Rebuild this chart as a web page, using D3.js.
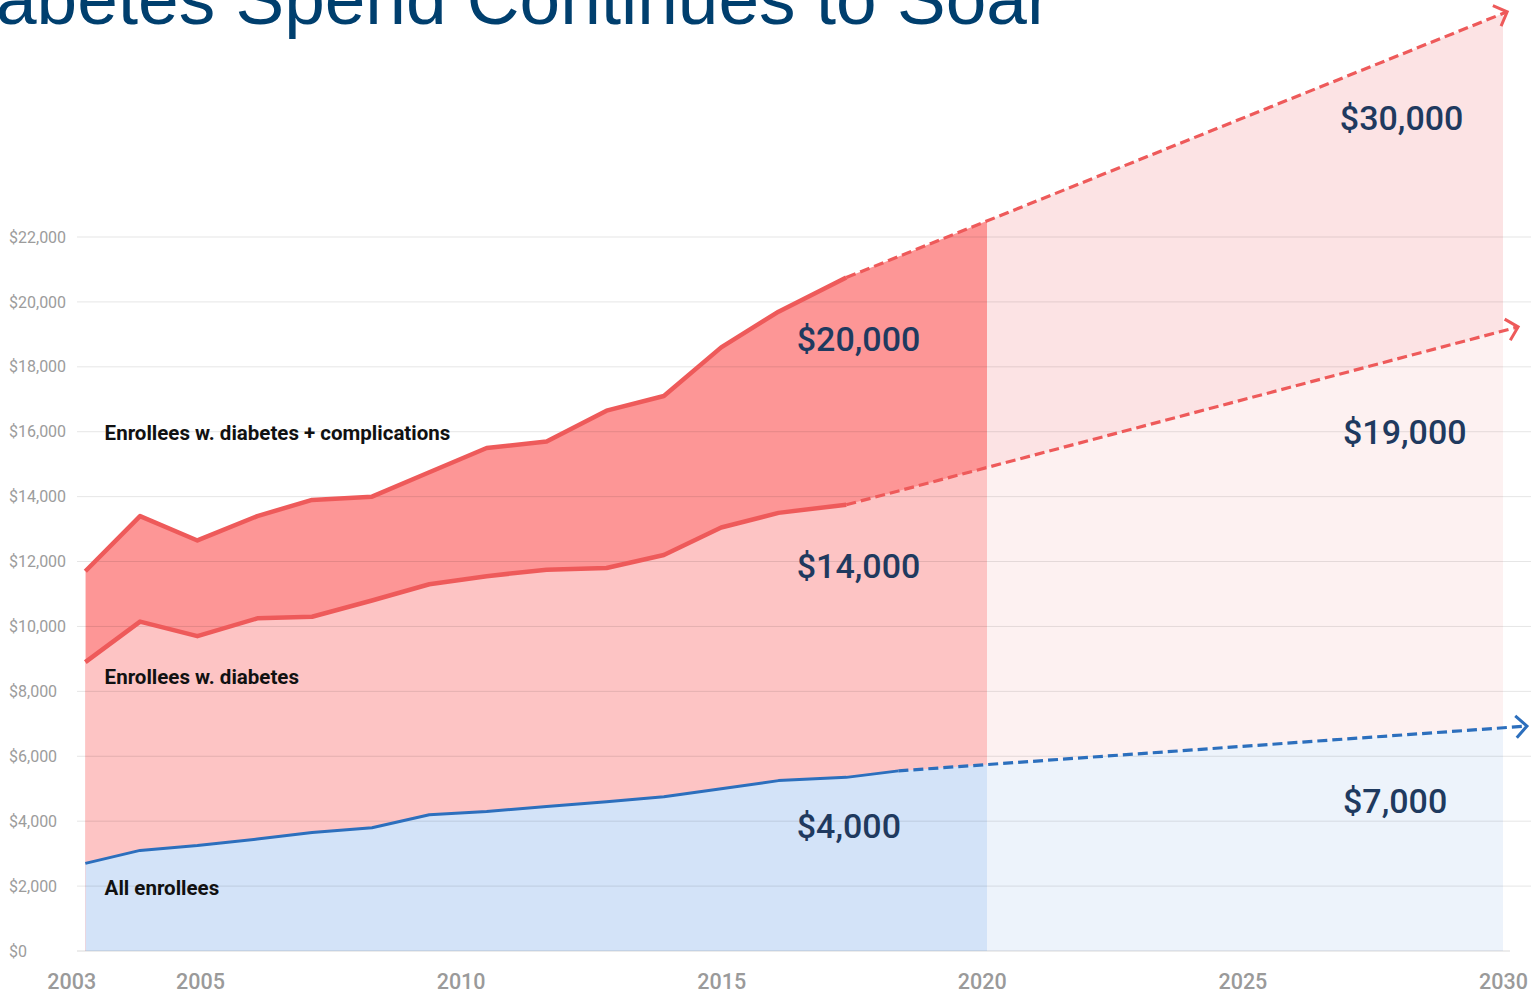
<!DOCTYPE html>
<html>
<head>
<meta charset="utf-8">
<script src="https://cdn.jsdelivr.net/npm/d3@7"></script>
<style>
  body { margin: 0; background: #fff; }
  svg { display: block; }
  .ytick { font-family: Roboto, sans-serif; font-size: 16px; fill: #9c9c9c; }
  .xaxis text { font-family: Roboto, sans-serif; font-size: 21.5px; font-weight: 500; fill: #9a9a9a; }
  .series-label { font-family: Roboto, sans-serif; font-size: 20.5px; font-weight: 700; fill: #111; }
  .value-label { font-family: Roboto, sans-serif; font-size: 34px; font-weight: 500; fill: #1f3a5f; }
  .title { font-family: "Liberation Sans", Arial, sans-serif; font-size: 73px; fill: #003f6e; }
</style>
</head>
<body>
<svg id="chart" width="1531" height="998"></svg>
<script>
// years of the historical points (as placed along the axis in the picture)
var years = [2002.8, 2003.85, 2004.95, 2006.1, 2007.15, 2008.3, 2009.4, 2010.5, 2011.65, 2012.8, 2013.9, 2015.0, 2016.1, 2017.4, 2018.4];

// spend per enrollee
var withComplications = [11700, 13400, 12650, 13400, 13900, 14000, 14750, 15500, 15700, 16650, 17100, 18600, 19700, 20750];
var withDiabetes = [8900, 10150, 9700, 10250, 10300, 10800, 11300, 11550, 11750, 11800, 12200, 13050, 13500, 13750];
var allEnrollees = [2700, 3100, 3250, 3450, 3650, 3800, 4200, 4300, 4450, 4600, 4750, 5000, 5250, 5350, 5550];

// projected end points (dashed lines)
var projYears = [2030.08, 2030.29, 2030.46];
var projValues = [28940, 19230, 6930];

var splitYear = 2020.1;
var endYear = 2030;

var yTicks = [0, 2000, 4000, 6000, 8000, 10000, 12000, 14000, 16000, 18000, 20000, 22000];
var xTicks = [2003, 2005, 2010, 2015, 2020, 2025, 2030];

var seriesNames = ['Enrollees w. diabetes + complications', 'Enrollees w. diabetes', 'All enrollees'];
var seriesLabelYears = [2003.17, 2003.17, 2003.17];
var seriesLabelValues = [15750, 8230, 1730];

var valueLabels = ['$20,000', '$14,000', '$4,000', '$30,000', '$19,000', '$7,000'];
var valueLabelYears = [2016.45, 2016.45, 2016.45, 2026.87, 2026.93, 2026.93];
var valueLabelValues = [18500, 11500, 3480, 25300, 15630, 4250];

var darkFills = ['#fd9696', '#fdc4c4', '#d3e3f8'];
var paleFills = ['#fce3e4', '#fdf1f1', '#edf3fb'];
var lineColors = ['#ee5a5a', '#ee5a5a', '#2c6fbd'];

var svg = d3.select('svg#chart');

var x = d3.scaleLinear().domain([2005, 2030]).range([200, 1503]);
var y = d3.scaleLinear().domain([0, 22000]).range([951, 237]);

function toPoints(vals) {
    return vals.map(function (v, i) { return { year: years[i], value: v }; });
}

var series = [withComplications, withDiabetes, allEnrollees].map(function (vals, i) {
    var hist = toPoints(vals);
    var end = { year: projYears[i], value: projValues[i] };
    return { hist: hist, proj: [hist[hist.length - 1], end], all: hist.concat([end]) };
});

var defs = svg.append('defs');

defs.append('clipPath').attr('id', 'clipHist')
    .append('rect')
    .attr('x', x(years[0]))
    .attr('y', 0)
    .attr('width', x(splitYear) - x(years[0]))
    .attr('height', y(0));

defs.append('clipPath').attr('id', 'clipProj')
    .append('rect')
    .attr('x', x(splitYear))
    .attr('y', 0)
    .attr('width', x(endYear) - x(splitYear))
    .attr('height', y(0));

['red', 'blue'].forEach(function (name, i) {
    defs.append('marker')
        .attr('id', 'arrow-' + name)
        .attr('markerUnits', 'userSpaceOnUse')
        .attr('viewBox', '0 0 16 26')
        .attr('markerWidth', 16)
        .attr('markerHeight', 26)
        .attr('refX', 13)
        .attr('refY', 13)
        .attr('orient', 'auto')
        .append('path')
        .attr('d', 'M2,2 L13,13 L2,24')
        .attr('fill', 'none')
        .attr('stroke', i === 0 ? lineColors[0] : lineColors[2])
        .attr('stroke-width', 3);
});

// title (cut at the top of the picture)
svg.append('text')
    .attr('class', 'title')
    .attr('x', -4)
    .attr('y', 24)
    .text('abetes Spend Continues to Soar');

var area = d3.area()
    .x(function (d) { return x(d.year); })
    .y0(y(0))
    .y1(function (d) { return y(d.value); });

var line = d3.line()
    .x(function (d) { return x(d.year); })
    .y(function (d) { return y(d.value); });

var fills = svg.append('g').attr('class', 'fills');

series.forEach(function (s, i) {
    fills.append('path')
        .datum(s.all)
        .attr('clip-path', 'url(#clipHist)')
        .attr('fill', darkFills[i])
        .attr('d', area);
    fills.append('path')
        .datum(s.all)
        .attr('clip-path', 'url(#clipProj)')
        .attr('fill', paleFills[i])
        .attr('d', area);
});

// gridlines and y labels
var grid = svg.append('g').attr('class', 'grid');

grid.selectAll('line')
    .data(yTicks)
    .enter().append('line')
    .attr('x1', 77)
    .attr('x2', function (d) { return d === 0 ? 1510 : 1531; })
    .attr('y1', function (d) { return y(d); })
    .attr('y2', function (d) { return y(d); })
    .attr('stroke', d3.color('#000').copy({ opacity: 0.1 }))
    .attr('stroke-width', function (d) { return d === 0 ? 1.5 : 1; });

grid.selectAll('text')
    .data(yTicks)
    .enter().append('text')
    .attr('class', 'ytick')
    .attr('x', 9)
    .attr('y', function (d) { return y(d); })
    .attr('dy', '0.35em')
    .text(function (d) { return '$' + d3.format(',')(d); });

// lines
var lines = svg.append('g').attr('class', 'lines');

series.forEach(function (s, i) {
    lines.append('path')
        .datum(s.proj)
        .attr('fill', 'none')
        .attr('stroke', lineColors[i])
        .attr('stroke-width', 3.2)
        .attr('stroke-dasharray', '10,5')
        .attr('marker-end', i === 2 ? 'url(#arrow-blue)' : 'url(#arrow-red)')
        .attr('d', line);
    lines.append('path')
        .datum(s.hist)
        .attr('fill', 'none')
        .attr('stroke', lineColors[i])
        .attr('stroke-width', i === 2 ? 3 : 4.5)
        .attr('stroke-linejoin', 'round')
        .attr('d', line);
});

// x axis
var xAxis = svg.append('g')
    .attr('class', 'xaxis')
    .attr('transform', 'translate(0,' + 968 + ')')
    .call(d3.axisBottom(x).tickValues(xTicks).tickFormat(d3.format('d')).tickSize(0).tickPadding(6));

xAxis.select('.domain').remove();
xAxis.selectAll('.tick text')
    .attr('text-anchor', function (d) { return d === 2003 ? 'end' : 'middle'; });

// labels
svg.append('g').selectAll('text')
    .data(seriesNames)
    .enter().append('text')
    .attr('class', 'series-label')
    .attr('x', function (d, i) { return x(seriesLabelYears[i]); })
    .attr('y', function (d, i) { return y(seriesLabelValues[i]); })
    .text(function (d) { return d; });

svg.append('g').selectAll('text')
    .data(valueLabels)
    .enter().append('text')
    .attr('class', 'value-label')
    .attr('x', function (d, i) { return x(valueLabelYears[i]); })
    .attr('y', function (d, i) { return y(valueLabelValues[i]); })
    .text(function (d) { return d; });
</script>
</body>
</html>
